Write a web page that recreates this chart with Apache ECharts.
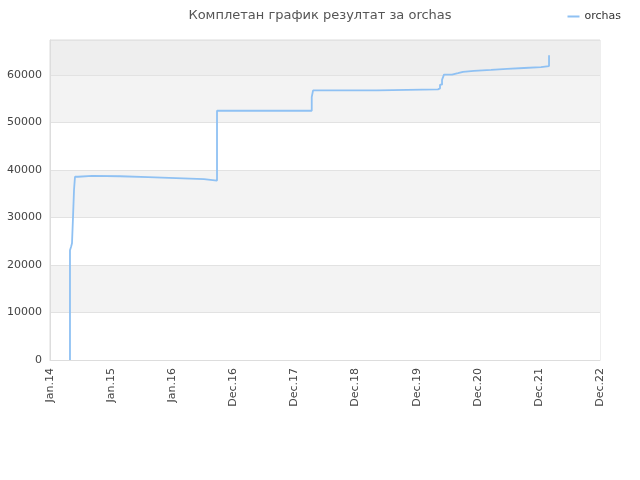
<!DOCTYPE html>
<html>
<head>
    <meta charset="utf-8" />
    <script src="https://cdn.jsdelivr.net/npm/echarts@6/dist/echarts.min.js"></script>
    <style type="text/css">
        html, body { width: 100%; height: 100%; margin: 0; }
        #chart { width: 640px; height: 480px; }
    </style>
</head>
<body>
    <div id="chart"></div>
    <script>
        // tick labels on the x axis (one per unit)
        var tickLabels = ['Jan.14', 'Jan.15', 'Jan.16', 'Dec.16', 'Dec.17', 'Dec.18', 'Dec.19', 'Dec.20', 'Dec.21', 'Dec.22'];
        // where the result changes (units of ticks from Jan.14)
        var when = [0.327, 0.327, 0.344, 0.36, 0.376, 0.393, 0.409, 0.458, 0.687, 1.146, 1.604, 2.062, 2.520, 2.733,
                    4.283, 4.305, 4.33, 5.35, 6.349, 6.382, 6.415, 6.447, 6.578, 6.676, 6.758, 6.938, 7.217, 7.478, 7.757, 8.035, 8.166];
        // cumulative result from that point on
        var score = [0, 23100, 23800, 24600, 29900, 35800, 38600, 38800, 38700, 38500, 38300, 38100, 37800, 52500,
                     55400, 56800, 56800, 57000, 57200, 58000, 59000, 60100, 60400, 60700, 60900, 61100, 61300, 61500, 61700, 61900, 64200];

        var points = [];
        for (var i = 0; i < when.length; i++) {
            points.push([when[i], score[i]]);
        }

        var myChart = echarts.init(document.getElementById('chart'));
        var option = {
            animation: false,
            title: {
                text: 'Комплетан график резултат за orchas',
                left: 'center',
                top: 4,
                textStyle: { fontFamily: 'DejaVu Sans', fontSize: 13, fontWeight: 'normal', color: '#555' }
            },
            legend: {
                right: 14,
                top: 6,
                itemWidth: 12,
                itemHeight: 2,
                icon: 'rect',
                textStyle: { fontFamily: 'DejaVu Sans', fontSize: 11, color: '#333' },
                data: ['orchas']
            },
            grid: {
                left: 50, right: 40, top: 40, bottom: 120,
                show: true, borderColor: '#ddd', borderWidth: 1
            },
            xAxis: {
                type: 'value',
                min: 0,
                max: 9,
                interval: 1,
                axisLine: { show: true, lineStyle: { color: '#ddd' } },
                axisTick: { show: false },
                splitLine: { show: false },
                axisLabel: {
                    rotate: 90,
                    fontFamily: 'DejaVu Sans',
                    fontSize: 11,
                    color: '#444',
                    formatter: function (v) { return tickLabels[Math.round(v)]; }
                }
            },
            yAxis: {
                type: 'value',
                min: 0,
                max: 67400,
                interval: 10000,
                axisLine: { show: true, lineStyle: { color: '#ddd' } },
                axisTick: { show: false },
                axisLabel: {
                    fontFamily: 'DejaVu Sans',
                    fontSize: 11,
                    color: '#444',
                    showMaxLabel: false,
                    formatter: function (v) { return String(v); }
                },
                splitLine: { show: true, lineStyle: { color: '#e2e2e2' } },
                splitArea: {
                    show: true,
                    areaStyle: { color: ['#ffffff', '#f3f3f3', '#ffffff', '#f3f3f3', '#ffffff', '#f3f3f3', '#eeeeee'] }
                }
            },
            series: [{
                name: 'orchas',
                type: 'line',
                step: 'end',
                showSymbol: false,
                lineStyle: { color: '#8fc1f3', width: 1.8 },
                itemStyle: { color: '#8fc1f3' },
                data: points
            }]
        };
        myChart.setOption(option);
    </script>
</body>
</html>
